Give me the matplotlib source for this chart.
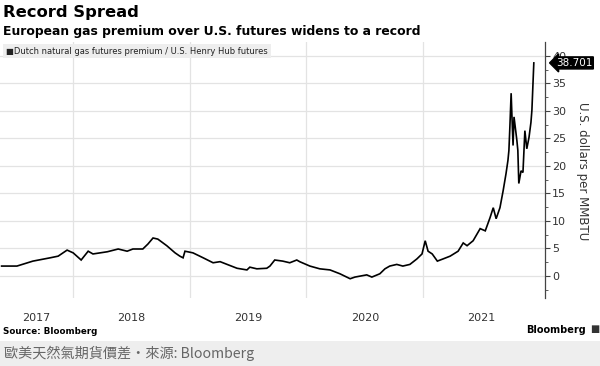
import numpy as np
import pandas as pd
import matplotlib
matplotlib.use('Agg')
import matplotlib.pyplot as plt
import matplotlib.transforms as mtransforms

# Dutch TTF premium over Henry Hub, USD per MMBtu
dates = [
    '2017-05-22', '2017-07-09', '2017-08-28', '2017-10-21', '2017-11-15', '2017-12-13',
    '2018-01-01', '2018-01-26', '2018-02-17', '2018-03-04', '2018-04-18', '2018-05-22',
    '2018-06-19', '2018-07-07', '2018-08-07', '2018-08-23', '2018-09-08', '2018-09-23',
    '2018-10-21', '2018-11-16', '2018-12-01', '2018-12-11', '2018-12-17', '2019-01-11',
    '2019-02-12', '2019-03-15', '2019-04-06', '2019-04-28', '2019-05-29', '2019-06-29',
    '2019-07-08', '2019-07-30', '2019-08-30', '2019-09-09', '2019-09-24', '2019-10-19',
    '2019-11-10', '2019-12-02', '2019-12-11', '2020-01-12', '2020-02-12', '2020-03-15',
    '2020-04-15', '2020-05-17', '2020-06-01', '2020-07-08', '2020-07-24', '2020-08-18',
    '2020-09-03', '2020-09-18', '2020-10-10', '2020-10-29', '2020-11-20', '2020-12-12',
    '2020-12-28', '2021-01-07', '2021-01-16', '2021-01-29', '2021-02-14', '2021-03-04',
    '2021-03-26', '2021-04-20', '2021-05-06', '2021-05-18', '2021-06-06', '2021-06-28',
    '2021-07-14', '2021-07-29', '2021-08-08', '2021-08-17', '2021-08-29', '2021-09-08',
    '2021-09-17', '2021-09-23', '2021-09-26', '2021-09-29', '2021-10-03', '2021-10-06',
    '2021-10-09', '2021-10-12', '2021-10-21', '2021-10-24', '2021-10-27', '2021-11-03',
    '2021-11-09', '2021-11-15', '2021-11-21', '2021-11-28', '2021-12-04', '2021-12-07',
    '2021-12-13',
]
premium = [
    1.8, 1.8, 2.7, 3.3, 3.6, 4.7,
    4.2, 2.9, 4.5, 4.0, 4.4, 4.9,
    4.5, 4.9, 4.9, 5.8, 6.9, 6.7,
    5.5, 4.2, 3.6, 3.3, 4.5, 4.2,
    3.3, 2.4, 2.6, 2.1, 1.4, 1.1,
    1.6, 1.3, 1.4, 1.8, 2.9, 2.7,
    2.4, 2.9, 2.6, 1.8, 1.3, 1.1,
    0.4, -0.5, -0.2, 0.2, -0.2, 0.4,
    1.3, 1.8, 2.1, 1.8, 2.1, 3.1,
    4.0, 6.4, 4.5, 4.0, 2.7, 3.1,
    3.6, 4.5, 6.0, 5.5, 6.4, 8.6,
    8.2, 10.6, 12.4, 10.4, 12.4, 15.5,
    18.6, 21.0, 22.8, 27.0, 33.2, 28.3,
    23.7, 28.9, 24.6, 22.8, 16.8, 19.1,
    18.8, 26.4, 23.1, 25.2, 27.9, 30.1,
    38.701,
]
years = [2017, 2018, 2019, 2020, 2021]
yticks = [0, 5, 10, 15, 20, 25, 30, 35, 40]

x = pd.to_datetime(dates)

fig = plt.figure(figsize=(6, 3.66), dpi=100)
fig.patch.set_facecolor('white')
W, H = 600, 366
ax = fig.add_axes([0, (H - 298) / H, 545 / W, (298 - 42) / H])
ax.set_facecolor('white')

ax.plot(x, premium, color='black', linewidth=1.2, solid_joinstyle='miter')

xmin = pd.Timestamp('2017-05-17')
xmax = pd.Timestamp('2022-01-17')
ax.set_xlim(xmin, xmax)
ax.set_ylim(-4, 42.5)

# gridlines at year starts, labels centred in the visible part of each year
starts = [pd.Timestamp(f'{y}-01-01') for y in years[1:]]
ax.set_xticks(starts)
ax.set_xticklabels([])
ax.tick_params(axis='x', which='major', length=0)
centres = []
for y in years:
    a = max(pd.Timestamp(f'{y}-01-01'), xmin)
    b = min(pd.Timestamp(f'{y + 1}-01-01'), xmax)
    centres.append(a + (b - a) / 2)
ax.set_xticks(centres, minor=True)
ax.set_xticklabels([str(y) for y in years], minor=True)
ax.tick_params(axis='x', which='minor', length=0, labelsize=8, colors='#333333', pad=11)

ax.yaxis.tick_right()
ax.set_yticks(yticks)
ax.set_yticks(np.arange(-2.5, 42.5, 2.5), minor=True)
ax.tick_params(axis='y', which='major', length=3.5, width=0.8, colors='#444444',
               labelsize=8, pad=1.5, labelcolor='#333333')
ax.tick_params(axis='y', which='minor', length=2, width=0.6, colors='#444444')

ax.grid(True, which='major', color='#e3e3e3', linewidth=0.9)
ax.set_axisbelow(True)
for s in ['top', 'left', 'bottom']:
    ax.spines[s].set_visible(False)
ax.spines['right'].set_color('#444444')
ax.spines['right'].set_linewidth(0.9)

# last value tag
trans = mtransforms.blended_transform_factory(ax.transAxes, ax.transData)
ax.text(1.02, premium[-1], f'{premium[-1]:.3f}', transform=trans, color='white',
        fontsize=7.5, va='center', ha='left',
        bbox=dict(boxstyle='larrow,pad=0.1', facecolor='black', edgecolor='black'))

fig.text(583 / W, 1 - 171 / H, 'U.S. dollars per MMBTU', rotation=270, fontsize=8.5,
         color='#333333', ha='center', va='center')

# titles
fig.text(3 / W, 1 - 13 / H, 'Record Spread', fontsize=11.8, fontweight='bold',
         color='black', va='center', ha='left')
fig.text(3 / W, 1 - 31 / H, 'European gas premium over U.S. futures widens to a record',
         fontsize=8.9, fontweight='bold', color='black', va='center', ha='left')
fig.text(6 / W, 1 - 51 / H, '\u25a0Dutch natural gas futures premium / U.S. Henry Hub futures',
         fontsize=6.0, color='#222222', va='center', ha='left',
         bbox=dict(boxstyle='square,pad=0.35', facecolor='#eeeeee', edgecolor='none'))

# footer
fig.text(3 / W, 1 - 332 / H, 'Source: Bloomberg', fontsize=6.3, fontweight='bold',
         color='black', va='center', ha='left')
fig.text(586 / W, 1 - 330 / H, 'Bloomberg', fontsize=7, fontweight='bold',
         color='black', va='center', ha='right')
fig.text(595 / W, 1 - 329 / H, '\u25a0', fontsize=7, color='#333333', va='center', ha='center')

band = plt.Rectangle((0, 0), 1, (H - 341) / H, transform=fig.transFigure,
                     facecolor='#eeeeee', edgecolor='none', zorder=0)
fig.patches.append(band)
fig.text(4 / W, 1 - 353 / H, '歐美天然氣期貨價差・來源: Bloomberg', fontsize=10.2,
         color='#666666', va='center', ha='left',
         family=['Noto Sans CJK TC', 'DejaVu Sans'])

fig.savefig('out.png', dpi=100, facecolor=fig.get_facecolor())
